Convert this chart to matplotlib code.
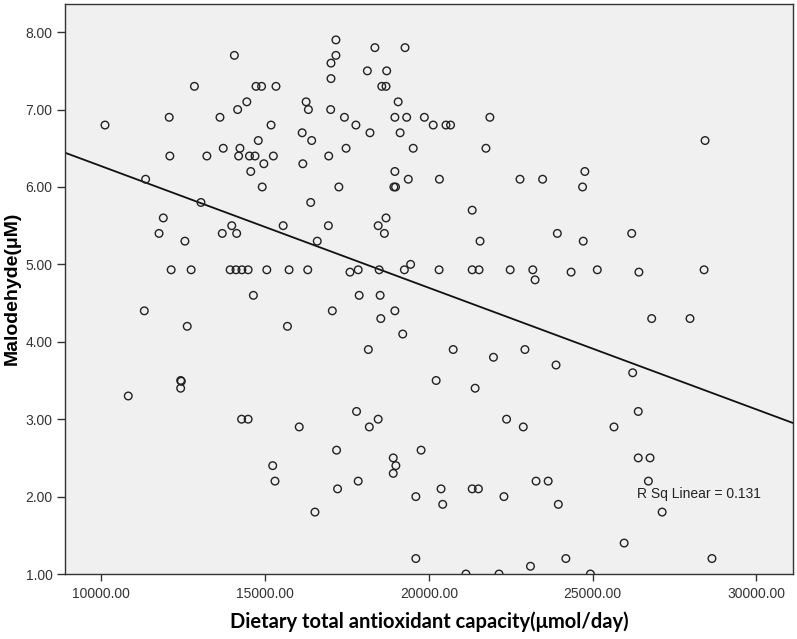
import numpy as np
import matplotlib
matplotlib.use("Agg")
import matplotlib.pyplot as plt

# dietary TAC (umol/day) and malondialdehyde (uM)
tac = [17160, 14060, 17160, 17010, 18350, 19270, 18120, 18710, 17010, 12840,
       14720, 14890, 15330, 18560, 18690, 14440, 16250, 19060, 14160, 16320,
       17000, 10110, 12070, 13620, 15180, 17420, 17770, 18960, 19320, 19860,
       20130, 20520, 20660, 21860, 14790, 16130, 16420, 18200, 19120, 28430,
       13720, 14230, 17470, 19520, 21740, 12090, 13220, 14190, 14520, 14690,
       15250, 16940, 14960, 16150, 14560, 18960, 24760, 11350, 19370, 20320,
       22780, 23470, 14910, 17250, 18930, 18980, 24690, 13040, 16390, 21320,
       11890, 18690, 13980, 15550, 16930, 18450, 11760, 13690, 14130, 18640,
       23920, 26190, 12550, 16590, 21560, 24710, 12130, 12740, 13930, 14110,
       14290, 14480, 15050, 15730, 16300, 17590, 17840, 18480, 19250, 19440,
       20310, 21320, 21530, 22480, 23170, 23240, 24340, 25140, 26410, 28400,
       14640, 17870, 18510, 11310, 17050, 18960, 18530, 26800, 27970, 12620,
       15680, 19200, 18150, 20740, 22930, 21970, 23880, 26220, 20220, 21410,
       12420, 12440, 12420, 10820, 17790, 26390, 14280, 14480, 18450, 22370,
       16040, 18180, 22880, 25650, 17180, 19760, 18910, 26390, 26750, 15230,
       18990, 18910, 15300, 17840, 23270, 23640, 26700, 17210, 20370, 21320,
       21510, 19600, 22290, 20420, 23950, 16520, 27120, 25960, 19600, 24180,
       28640, 23100, 21130, 22140, 24930]
mda = [7.90, 7.70, 7.70, 7.60, 7.80, 7.80, 7.50, 7.50, 7.40, 7.30,
       7.30, 7.30, 7.30, 7.30, 7.30, 7.10, 7.10, 7.10, 7.00, 7.00,
       7.00, 6.80, 6.90, 6.90, 6.80, 6.90, 6.80, 6.90, 6.90, 6.90,
       6.80, 6.80, 6.80, 6.90, 6.60, 6.70, 6.60, 6.70, 6.70, 6.60,
       6.50, 6.50, 6.50, 6.50, 6.50, 6.40, 6.40, 6.40, 6.40, 6.40,
       6.40, 6.40, 6.30, 6.30, 6.20, 6.20, 6.20, 6.10, 6.10, 6.10,
       6.10, 6.10, 6.00, 6.00, 6.00, 6.00, 6.00, 5.80, 5.80, 5.70,
       5.60, 5.60, 5.50, 5.50, 5.50, 5.50, 5.40, 5.40, 5.40, 5.40,
       5.40, 5.40, 5.30, 5.30, 5.30, 5.30, 4.93, 4.93, 4.93, 4.93,
       4.93, 4.93, 4.93, 4.93, 4.93, 4.90, 4.93, 4.93, 4.93, 5.00,
       4.93, 4.93, 4.93, 4.93, 4.93, 4.80, 4.90, 4.93, 4.90, 4.93,
       4.60, 4.60, 4.60, 4.40, 4.40, 4.40, 4.30, 4.30, 4.30, 4.20,
       4.20, 4.10, 3.90, 3.90, 3.90, 3.80, 3.70, 3.60, 3.50, 3.40,
       3.50, 3.49, 3.40, 3.30, 3.10, 3.10, 3.00, 3.00, 3.00, 3.00,
       2.90, 2.90, 2.90, 2.90, 2.60, 2.60, 2.50, 2.50, 2.50, 2.40,
       2.40, 2.30, 2.20, 2.20, 2.20, 2.20, 2.20, 2.10, 2.10, 2.10,
       2.10, 2.00, 2.00, 1.90, 1.90, 1.80, 1.80, 1.40, 1.20, 1.20,
       1.20, 1.10, 1.00, 1.00, 1.00]

x_ticks = [10000, 15000, 20000, 25000, 30000]
y_ticks = [1, 2, 3, 4, 5, 6, 7, 8]
r2_label = "R Sq Linear = 0.131"

tac = np.array(tac, dtype=float)
mda = np.array(mda)

fig = plt.figure(figsize=(7.97, 6.39), dpi=100)
ax = fig.add_axes([0.0816, 0.1017, 0.9134, 0.8928])
ax.set_facecolor("#f0f0f0")

ax.scatter(tac, mda, s=30, facecolors="none", edgecolors="#222222", linewidths=1.0, zorder=3)

ax.set_xlim(8890, 31115)
ax.set_ylim(1.0, 8.37)

# linear fit line across the whole axis
slope, icpt = np.polyfit(tac, mda, 1)
xx = np.array(ax.get_xlim())
ax.plot(xx, icpt + slope * xx, color="#111111", lw=1.3, zorder=2)

ax.text(26340, 2.03, r2_label, fontsize=10, family="Liberation Sans", color="#222222", va="center", ha="left")

ax.set_xticks(x_ticks)
ax.set_xticklabels([f"{v:.2f}" for v in x_ticks])
ax.set_yticks(y_ticks)
ax.set_yticklabels([f"{v:.2f}" for v in y_ticks])
for lab in ax.get_xticklabels() + ax.get_yticklabels():
    lab.set_family("Liberation Sans")
    lab.set_fontsize(10)
    lab.set_color("#333333")
ax.tick_params(axis="y", direction="out", length=6, width=1, pad=3, color="#333333")
ax.tick_params(axis="x", direction="out", length=5, width=1, pad=4, color="#333333")

for sp in ax.spines.values():
    sp.set_color("#333333")
    sp.set_linewidth(1.0)

ax.set_xlabel("Dietary total antioxidant capacity(μmol/day)", fontsize=14.5, fontweight="bold", family="Lato", labelpad=8)
ax.set_ylabel("Malodehyde(μM)", fontsize=14, fontweight="bold", family="Liberation Sans", labelpad=3)

fig.savefig("out.png", dpi=100)
